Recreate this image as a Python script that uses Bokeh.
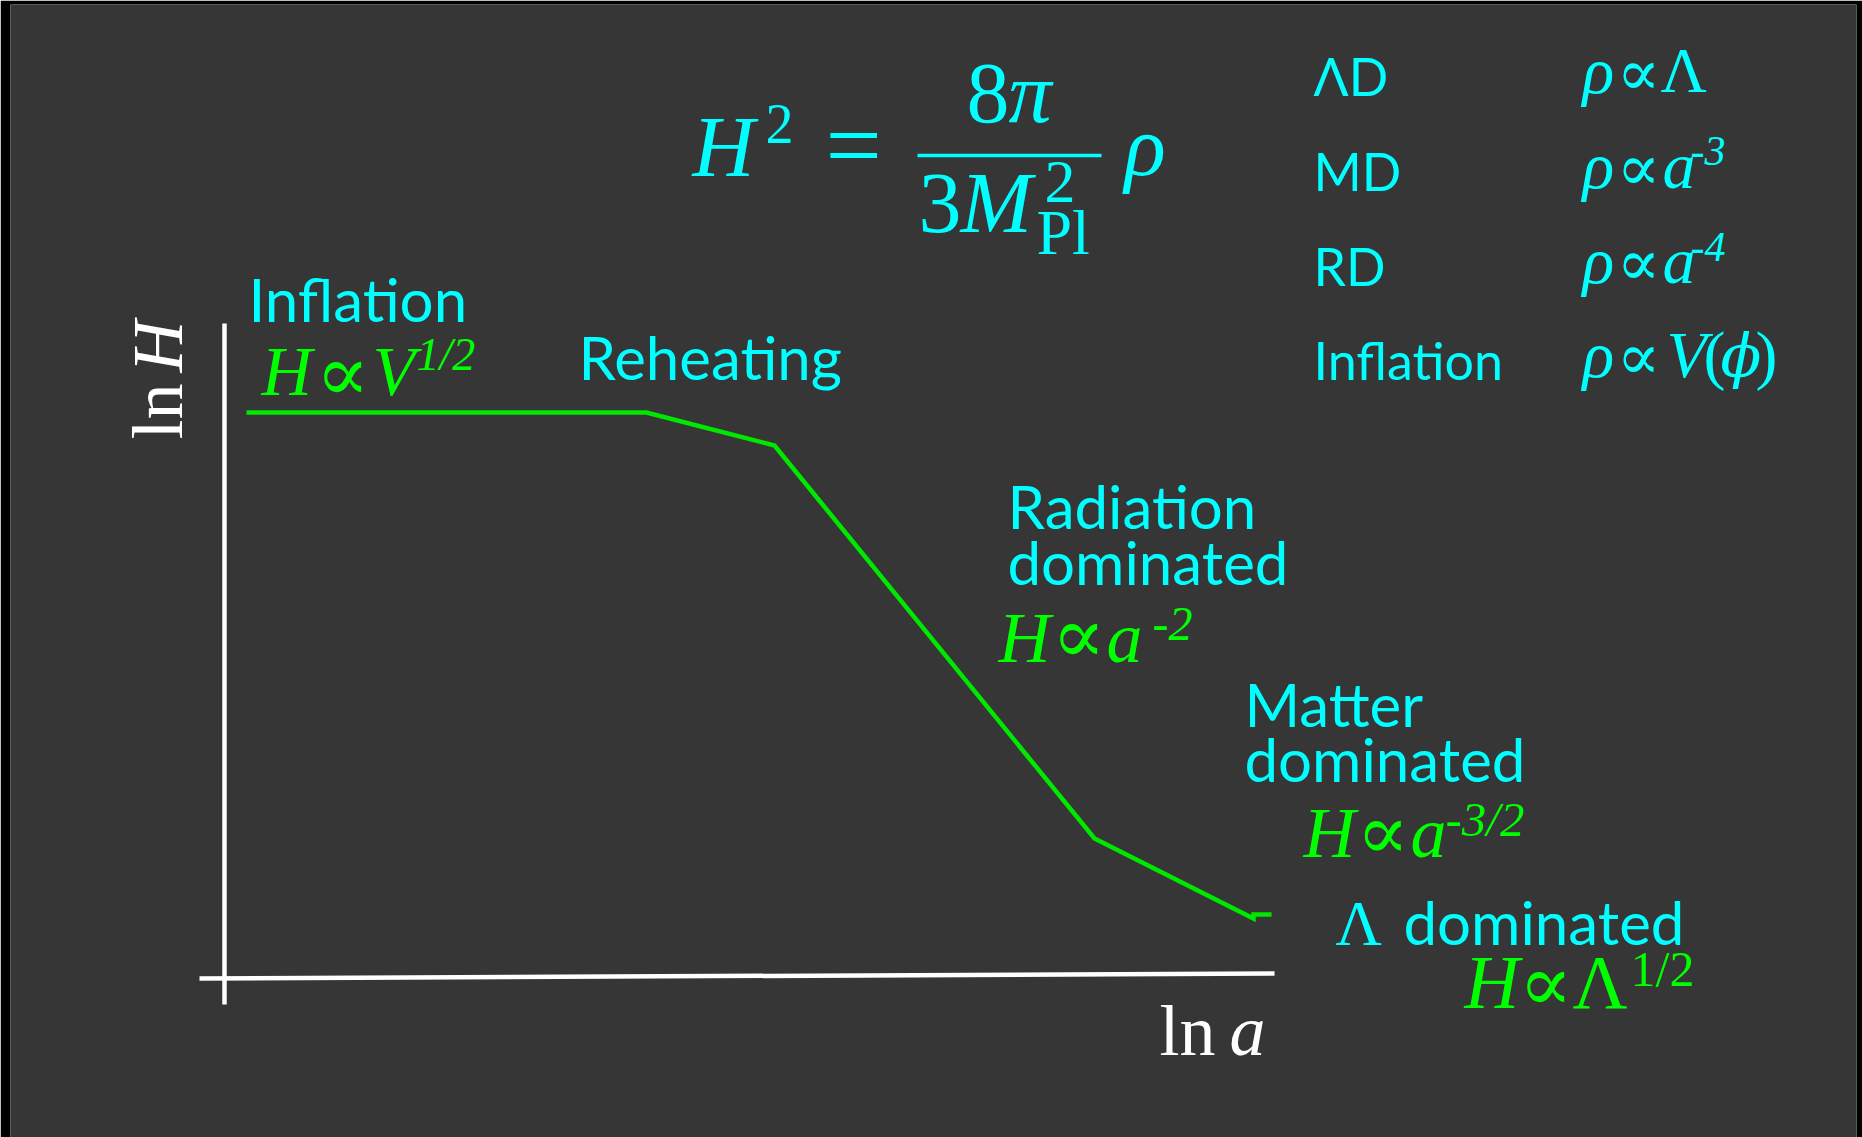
import math
from bokeh.plotting import figure
from bokeh.models import Label, Range1d
from bokeh.embed import file_html
from bokeh.resources import INLINE

# ---- data: schematic ln H versus ln a (arbitrary units) ----
ln_a = [0.22, 4.22, 5.50, 8.70, 10.29, 10.29, 10.47]
ln_H = [5.63, 5.63, 5.30, 1.37, 0.57, 0.61, 0.61]

eras = ["Inflation", "Reheating", "Radiation\ndominated", "Matter\ndominated", "Λ dominated"]
table_names = ["ΛD", "MD", "RD", "Inflation"]

CYAN = "#00ffff"
GREEN = "#00ff00"
LINE_GREEN = "#00e800"
BG = "#363636"
SANS = "Lato"
SERIF = "Liberation Serif"
SYM = "DejaVu Serif"

W, H = 1862, 1137
BL, BR, BT, BB = 10, 6, 4, 0          # black border around the dark panel
ORIGIN_PX, ORIGIN_PY = 224, 975      # position of the axes' origin
UNIT = 100.0                          # pixels per data unit

def X(px):
    return (px - ORIGIN_PX) / UNIT

def Y(py):
    return (ORIGIN_PY - py) / UNIT

p = figure(width=W, height=H, output_backend="svg", toolbar_location=None,
           x_axis_location=None, y_axis_location=None,
           x_range=Range1d(X(BL), X(W - BR)),
           y_range=Range1d(Y(H - BB), Y(BT)),
           min_border_left=BL, min_border_right=BR,
           min_border_top=BT, min_border_bottom=BB)
p.background_fill_color = BG
p.border_fill_color = "black"
p.outline_line_color = None
p.xgrid.visible = False
p.ygrid.visible = False

# axes drawn as plain white lines
p.segment(x0=[X(199), X(224)], y0=[Y(978), Y(1004)],
          x1=[X(1274), X(224)], y1=[Y(973), Y(323)],
          line_color="white", line_width=4.5)

# the curve
p.line(ln_a, ln_H, line_color=LINE_GREEN, line_width=4.5, line_join="miter")

MID = {SANS: 0.387, SERIF: 0.3375, SYM: 0.346}

def L(px, py, text, size, color=CYAN, font=SANS, style="normal", rotated=False):
    """px, py: start of text and its baseline (pixels)."""
    off = MID[font] * size
    if rotated:
        ax, ay, ang = px - off, py, math.pi / 2
    else:
        ax, ay, ang = px, py - off, 0.0
    p.add_layout(Label(x=X(ax), y=Y(ay), text=text, text_font=font,
                       text_font_size=f"{size}px", text_color=color,
                       text_font_style=style, text_align="left",
                       text_baseline="middle", angle=ang))

# axis labels
L(182, 439, "ln", 72, "white", SERIF, rotated=True)
L(182, 372, "H", 72, "white", SERIF, "italic", rotated=True)
L(1159, 1055, "ln", 72, "white", SERIF)
L(1229, 1055, "a", 72, "white", SERIF, "italic")

# era labels
L(248, 322, eras[0], 60)
L(578, 380, eras[1], 60)
rad1, rad2 = eras[2].split("\n")
L(1007, 529, rad1, 60)
L(1007, 585, rad2, 60)
mat1, mat2 = eras[3].split("\n")
L(1244, 727, mat1, 60)
L(1244, 782, mat2, 60)
L(1335, 945, "Λ", 64, CYAN, SERIF)
L(1403, 945, eras[4].split(" ", 1)[1], 60)

# green scaling laws
L(261, 395, "H", 70, GREEN, SERIF, "italic")
L(315, 401, "∝", 80, GREEN, SYM)
L(372, 395, "V", 70, GREEN, SERIF, "italic")
L(416, 370, "1/2", 46, GREEN, SERIF, "italic")

L(998, 662, "H", 72, GREEN, SERIF, "italic")
L(1051, 663, "∝", 80, GREEN, SYM)
L(1106, 662, "a", 72, GREEN, SERIF, "italic")
L(1152, 640, "-2", 48, GREEN, SERIF, "italic")

L(1303, 857, "H", 72, GREEN, SERIF, "italic")
L(1356, 858, "∝", 78, GREEN, SYM)
L(1410, 857, "a", 72, GREEN, SERIF, "italic")
L(1445, 836, "-3/2", 49, GREEN, SERIF, "italic")

L(1464, 1007, "H", 76, GREEN, SERIF, "italic")
L(1518, 1011, "∝", 80, GREEN, SYM)
L(1572, 1007, "Λ", 76, GREEN, SERIF)
L(1630, 985, "1/2", 50, GREEN, SERIF)

# Friedmann equation
L(692, 176, "H", 86, CYAN, SERIF, "italic")
L(765, 142, "2", 56, CYAN, SERIF)
L(825, 179, "=", 100, CYAN, SERIF)
L(966, 122, "8", 86, CYAN, SERIF)
L(1008, 122, "π", 86, CYAN, SERIF, "italic")
p.segment(x0=[X(917)], y0=[Y(155)], x1=[X(1101)], y1=[Y(155)],
          line_color=CYAN, line_width=3.5)
L(918, 232, "3", 86, CYAN, SERIF)
L(960, 232, "M", 86, CYAN, SERIF, "italic")
L(1044, 202, "2", 62, CYAN, SERIF)
L(1036, 254, "Pl", 64, CYAN, SERIF)
L(1124, 175, "ρ", 86, CYAN, SERIF, "italic")

# table of energy densities
rows_y = [96, 191, 286, 380]
for name, yy in zip(table_names, rows_y):
    L(1313, yy, name, 52)
for yy in rows_y:
    L(1582, yy - 4, "ρ", 66, CYAN, SERIF, "italic")
    L(1616, yy - 2, "∝", 65, CYAN, SYM)
L(1660, rows_y[0] - 4, "Λ", 64, CYAN, SERIF)
L(1662, rows_y[1] - 4, "a", 66, CYAN, SERIF, "italic")
L(1690, rows_y[1] - 26, "-3", 42, CYAN, SERIF, "italic")
L(1662, rows_y[2] - 4, "a", 66, CYAN, SERIF, "italic")
L(1690, rows_y[2] - 25, "-4", 42, CYAN, SERIF, "italic")
L(1666, rows_y[3] - 4, "V", 66, CYAN, SERIF, "italic")
L(1703, rows_y[3] - 4, "(", 66, CYAN, SERIF)
L(1720, rows_y[3] - 4, "ϕ", 60, CYAN, SYM, "italic")
L(1755, rows_y[3] - 4, ")", 66, CYAN, SERIF)

open("out.html", "w").write(file_html(p, INLINE))
